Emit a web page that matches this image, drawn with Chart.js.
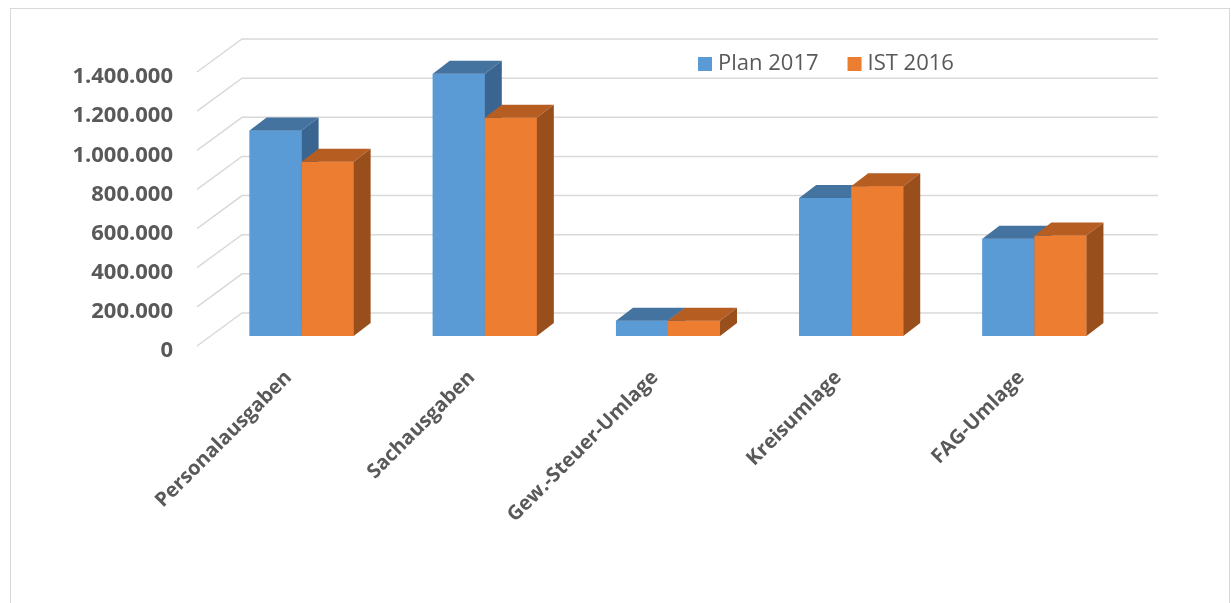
<!DOCTYPE html>
<html>
<head>
<meta charset="utf-8">
<script src="https://cdn.jsdelivr.net/npm/chart.js@4.4.1/dist/chart.umd.min.js"></script>
<style>
    html, body { margin: 0; padding: 0; background: #fff; }
    #rahmen { position: absolute; left: 10px; top: 8px; width: 1220px; height: 610px; border: 1px solid #d9d9d9; box-sizing: border-box; }
    #diagramm { position: absolute; left: 0; top: 0; }
</style>
</head>
<body>
<div id="rahmen"></div>
<canvas id="diagramm" width="1231" height="603"></canvas>
<script>
// Kategorien und Werte
const kategorien = ["Personalausgaben", "Sachausgaben", "Gew.-Steuer-Umlage", "Kreisumlage", "FAG-Umlage"];
const plan2017 = [1050000, 1340000, 78000, 705000, 497000];
const ist2016 = [890000, 1115000, 78000, 765000, 513000];
const serienNamen = ["Plan 2017", "IST 2016"];
const yTicks = [0, 200000, 400000, 600000, 800000, 1000000, 1200000, 1400000];

// Versatz für den 3D-Effekt (Pixel)
const TIEFE_X = 17, TIEFE_Y = 13;   // Tiefe der Säulen
const WAND_X = 32, WAND_Y = 23;     // Rückwand hinter der Säulenebene
const VORNE_X = 13, VORNE_Y = 10;   // Vorderkante des Bodens

const textFarbe = "#595959";

// Zahlen mit Punkt als Tausendertrennzeichen
function formatZahl(v) {
    return String(v).replace(/\B(?=(\d{3})+(?!\d))/g, ".");
}

// Gitterlinien auf der Rückwand + schräge Linien an der Seitenwand
const wandPlugin = {
    id: "wand",
    beforeDatasetsDraw(chart) {
        const ctx = chart.ctx;
        const y = chart.scales.y;
        const area = chart.chartArea;
        ctx.save();
        ctx.strokeStyle = "#d9d9d9";
        ctx.lineWidth = 1.5;
        y.ticks.forEach(t => {
            const py = y.getPixelForValue(t.value);
            ctx.beginPath();
            ctx.moveTo(area.left - VORNE_X, py + VORNE_Y);
            ctx.lineTo(area.left + WAND_X, py - WAND_Y);
            ctx.lineTo(area.right + WAND_X, py - WAND_Y);
            ctx.stroke();
        });
        ctx.restore();
    }
};

// Säulen als Quader zeichnen: Vorderseite, Deckel, rechte Seite
const quaderPlugin = {
    id: "quader",
    afterDatasetsDraw(chart) {
        const ctx = chart.ctx;
        const metas = chart.data.datasets.map((ds, i) => chart.getDatasetMeta(i));
        ctx.save();
        for (let j = 0; j < kategorien.length; j++) {
            metas.forEach((meta, i) => {
                const ds = chart.data.datasets[i];
                const bar = meta.data[j];
                const l = bar.x - bar.width / 2;
                const r = bar.x + bar.width / 2;
                const oben = bar.y;
                const unten = bar.base;

                ctx.fillStyle = ds.backgroundColor;
                ctx.fillRect(l, oben, r - l, unten - oben);

                ctx.fillStyle = ds.farbeOben;
                ctx.beginPath();
                ctx.moveTo(l, oben);
                ctx.lineTo(l + TIEFE_X, oben - TIEFE_Y);
                ctx.lineTo(r + TIEFE_X, oben - TIEFE_Y);
                ctx.lineTo(r, oben);
                ctx.closePath();
                ctx.fill();

                ctx.fillStyle = ds.farbeSeite;
                ctx.beginPath();
                ctx.moveTo(r, oben);
                ctx.lineTo(r + TIEFE_X, oben - TIEFE_Y);
                ctx.lineTo(r + TIEFE_X, unten - TIEFE_Y);
                ctx.lineTo(r, unten);
                ctx.closePath();
                ctx.fill();
            });
        }
        ctx.restore();
    }
};

// Legende oben rechts im Diagramm
const legendePlugin = {
    id: "legende",
    afterDraw(chart) {
        const ctx = chart.ctx;
        ctx.save();
        ctx.font = '22px "Open Sans"';
        ctx.textBaseline = "middle";
        let x = 698;
        const y = 64;
        chart.data.datasets.forEach(ds => {
            ctx.fillStyle = ds.backgroundColor;
            ctx.fillRect(x, y - 7, 14, 14);
            ctx.fillStyle = textFarbe;
            ctx.fillText(ds.label, x + 20, y);
            x += 20 + ctx.measureText(ds.label).width + 29;
        });
        ctx.restore();
    }
};

const schriftX = { family: "Open Sans", size: 20, weight: "700" };
const schriftY = { family: "Open Sans", size: 22, weight: "700" };

new Chart(document.getElementById("diagramm"), {
    type: "bar",
    data: {
        labels: kategorien,
        datasets: [
            {
                label: serienNamen[0],
                data: plan2017,
                backgroundColor: "#5b9bd5",
                farbeOben: "#44739f",
                farbeSeite: "#3a6590"
            },
            {
                label: serienNamen[1],
                data: ist2016,
                backgroundColor: "#ed7d31",
                farbeOben: "#b65d22",
                farbeSeite: "#994f1c"
            }
        ]
    },
    options: {
        responsive: false,
        animation: false,
        devicePixelRatio: 1,
        barPercentage: 1,
        categoryPercentage: 0.568,
        layout: { padding: { left: 10, right: 105, top: 62, bottom: 10 } },
        plugins: {
            legend: { display: false },
            tooltip: { enabled: false }
        },
        scales: {
            x: {
                grid: { display: false, drawTicks: false },
                border: { display: false },
                ticks: {
                    color: textFarbe,
                    font: schriftX,
                    minRotation: 45,
                    maxRotation: 45,
                    autoSkip: false,
                    padding: 30,
                    labelOffset: -13
                },
                afterFit: s => { s.height = 257; }
            },
            y: {
                min: 0,
                max: 1400000,
                afterBuildTicks: s => { s.ticks = yTicks.map(v => ({ value: v })); },
                grid: { display: false, drawTicks: false },
                border: { display: false },
                ticks: {
                    color: textFarbe,
                    font: schriftY,
                    padding: 37,
                    labelOffset: 15,
                    callback: v => formatZahl(v)
                },
                afterFit: s => { s.width = 200; }
            }
        }
    },
    plugins: [wandPlugin, quaderPlugin, legendePlugin]
});
</script>
</body>
</html>
